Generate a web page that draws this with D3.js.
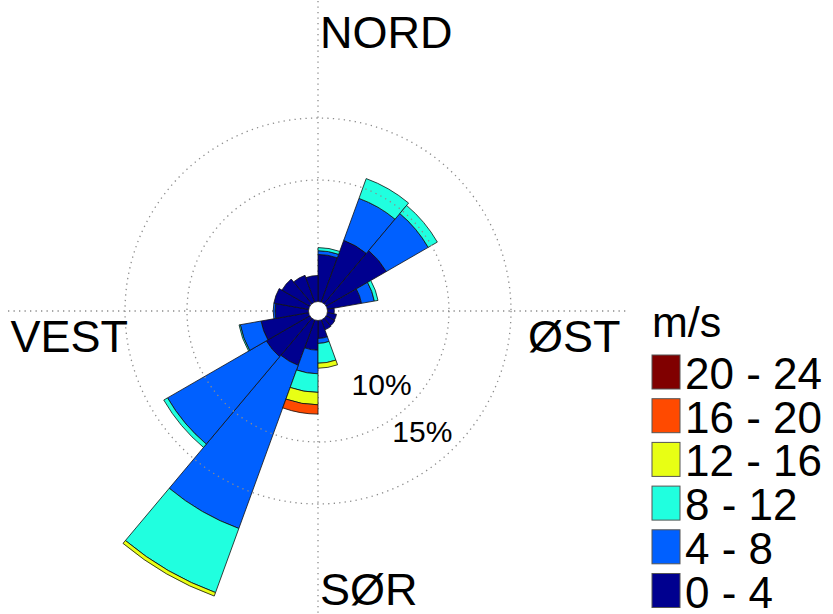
<!DOCTYPE html>
<html>
<head>
<meta charset="utf-8">
<script src="https://cdn.jsdelivr.net/npm/d3@7"></script>
<style>
  body { margin: 0; background: #fff; }
  text { font-family: "Liberation Sans", Arial, sans-serif; fill: #000; }
</style>
</head>
<body>
<div id="rose"></div>
<script>
// sector start angle (degrees clockwise from north), 20 degree bins
var sectorStart = [0, 20, 40, 60, 80, 100, 120, 140, 160, 180, 200, 220, 240, 260, 280, 300, 320, 340];

var speedClasses = ['0 - 4', '4 - 8', '8 - 12', '12 - 16', '16 - 20', '20 - 24'];
var classColors = ['#00008f', '#0060ff', '#20ffdf', '#e8ff14', '#ff4a00', '#800000'];

// frequency (%) per sector for each speed class
var freq0to4   = [4.0, 5.5, 5.8, 3.0, 0.75, 0.95, 1.0, 1.05, 1.65, 2.6, 4.1, 4.25, 4.1, 2.9, 3.05, 2.8, 2.5, 2.3];
var freq4to8   = [0.3, 3.6, 3.9, 1.05, 0, 0, 0, 0, 0.4, 1.9, 14.0, 9.2, 1.7, 0.15, 0, 0, 0, 0];
var freq8to12  = [0.25, 1.7, 0.85, 0.3, 0, 0, 0, 0, 1.6, 1.5, 5.5, 0.35, 0.1, 0, 0, 0, 0, 0];
var freq12to16 = [0, 0, 0, 0, 0, 0, 0, 0, 0.4, 1.0, 0.3, 0, 0, 0, 0, 0, 0, 0];
var freq16to20 = [0, 0, 0, 0, 0, 0, 0, 0, 0, 0.75, 0, 0, 0, 0, 0, 0, 0, 0];
var freq20to24 = [0, 0, 0, 0, 0, 0, 0, 0, 0, 0, 0, 0, 0, 0, 0, 0, 0, 0];

var ringValues = [10, 15];
var ringLabels = ['10%', '15%'];
var compassLabels = ['NORD', 'ØST', 'SØR', 'VEST'];

var width = 833;
var height = 614;
var cx = 318;
var cy = 311;
var sectorWidth = 20;

var allFreq = [freq0to4, freq4to8, freq8to12, freq12to16, freq16to20, freq20to24];

var rows = sectorStart.map(function(a, i) {
  var row = { angle: a };
  speedClasses.forEach(function(c, j) { row[c] = allFreq[j][i]; });
  return row;
});

var stacked = d3.stack().keys(speedClasses)(rows);

var r = d3.scaleLinear().domain([0, 15]).range([7, 193]);
var toRad = function(d) { return d * Math.PI / 180; };

var svg = d3.select('#rose')
            .append('svg')
            .attr('width', width)
            .attr('height', height);

svg.append('rect').attr('width', width).attr('height', height).attr('fill', '#fff');

var g = svg.append('g')
           .attr('transform', 'translate(' + cx + ',' + cy + ')');

// axis cross (under the bars)
g.append('line')
  .attr('x1', -310).attr('x2', 310).attr('y1', 0).attr('y2', 0)
  .attr('stroke', '#8c8c8c').attr('stroke-width', 1.3).attr('stroke-dasharray', '1.3 4.2');
g.append('line')
  .attr('x1', 0).attr('x2', 0).attr('y1', -310).attr('y2', 310)
  .attr('stroke', '#8c8c8c').attr('stroke-width', 1.3).attr('stroke-dasharray', '1.3 4.2');

var arc = d3.arc()
            .innerRadius(d => r(d[0]))
            .outerRadius(d => r(d[1]))
            .startAngle(d => toRad(d.data.angle))
            .endAngle(d => toRad(d.data.angle + sectorWidth));

stacked.forEach(function(layer, j) {
  g.append('g')
    .selectAll('path')
    .data(layer.filter(d => d[1] > d[0]))
    .enter()
    .append('path')
    .attr('d', arc)
    .attr('fill', classColors[j])
    .attr('stroke', '#111')
    .attr('stroke-width', 0.8);
});

// rings on top of the bars
g.selectAll('circle.ring')
  .data(ringValues)
  .enter()
  .append('circle')
  .attr('class', 'ring')
  .attr('r', d => r(d))
  .attr('fill', 'none')
  .attr('stroke', '#8c8c8c')
  .attr('stroke-width', 1.3)
  .attr('stroke-dasharray', '1.3 4.2');

// centre hole
g.append('circle')
  .attr('r', 9.5)
  .attr('fill', '#fff')
  .attr('stroke', '#222')
  .attr('stroke-width', 0.8);

// ring labels
var labelAngle = toRad(139);
g.selectAll('text.ring-label')
  .data(ringValues)
  .enter()
  .append('text')
  .attr('class', 'ring-label')
  .attr('x', d => Math.sin(labelAngle) * (r(d) - 34))
  .attr('y', d => -Math.cos(labelAngle) * (r(d) - 34) + 11)
  .attr('text-anchor', 'middle')
  .attr('font-size', 30)
  .text((d, i) => ringLabels[i]);

// compass labels
var compassPos = [
  { x: 2, y: -263, anchor: 'start' },
  { x: 210, y: 41, anchor: 'start' },
  { x: 2, y: 294, anchor: 'start' },
  { x: -190, y: 41, anchor: 'end' }
];
g.selectAll('text.compass')
  .data(compassLabels)
  .enter()
  .append('text')
  .attr('class', 'compass')
  .attr('x', (d, i) => compassPos[i].x)
  .attr('y', (d, i) => compassPos[i].y)
  .attr('text-anchor', (d, i) => compassPos[i].anchor)
  .attr('font-size', 45)
  .text(d => d);

// legend
var legend = svg.append('g').attr('transform', 'translate(652,0)');
legend.append('text')
  .attr('x', 0).attr('y', 337)
  .attr('font-size', 43)
  .text('m/s');

var legendItems = speedClasses.map((c, j) => ({ label: c, color: classColors[j] })).reverse();
var item = legend.selectAll('g.item')
  .data(legendItems)
  .enter()
  .append('g')
  .attr('class', 'item')
  .attr('transform', (d, i) => 'translate(0,' + (355 + i * 43.7) + ')');

item.append('rect')
  .attr('width', 28).attr('height', 34)
  .attr('fill', d => d.color)
  .attr('stroke', '#555').attr('stroke-width', 1);

item.append('text')
  .attr('x', 33).attr('y', 34)
  .attr('font-size', 44)
  .text(d => d.label);
</script>
</body>
</html>
